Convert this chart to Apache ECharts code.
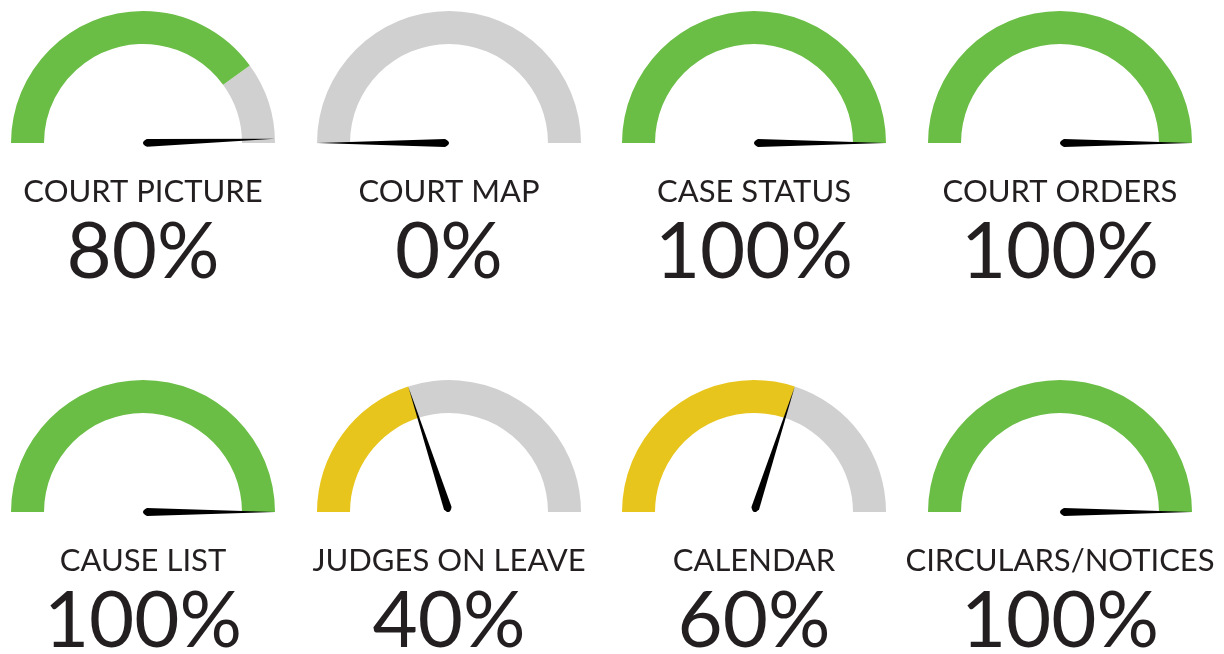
<!DOCTYPE html>
<html>
<head>
<meta charset="utf-8">
<script src="https://cdn.jsdelivr.net/npm/echarts@6/dist/echarts.min.js"></script>
<style>
    html, body { margin: 0; padding: 0; background: #fff; }
    #chart { width: 1224px; height: 654px; }
</style>
</head>
<body>
<div id="chart"></div>
<script>
// gauge data
var names = ['COURT PICTURE', 'COURT MAP', 'CASE STATUS', 'COURT ORDERS',
    'CAUSE LIST', 'JUDGES ON LEAVE', 'CALENDAR', 'CIRCULARS/NOTICES'];
var values = [80, 0, 100, 100, 100, 40, 60, 100];
// where the needle sits in the picture (the first one is off from its value)
var needleValues = [99, 0, 100, 100, 100, 40, 60, 100];
var fillColors = ['#6abd45', '#d0d0d0', '#6abd45', '#6abd45',
    '#6abd45', '#e8c51c', '#e8c51c', '#6abd45'];

var chart = echarts.init(document.getElementById('chart'));
var centersX = [143, 449, 754, 1060];
var centersY = [143, 512];
var radius = 132;
var series = [];

for (var i = 0; i < names.length; i++) {
    var center = [centersX[i % 4], centersY[Math.floor(i / 4)]];
    // arc + texts
    series.push({
        type: 'gauge',
        center: center,
        radius: radius,
        startAngle: 180,
        endAngle: 0,
        min: 0,
        max: 100,
        axisLine: {
            lineStyle: {
                width: 33,
                color: [[values[i] / 100, fillColors[i]], [1, '#d0d0d0']]
            }
        },
        axisTick: {show: false},
        splitLine: {show: false},
        axisLabel: {show: false},
        pointer: {show: false},
        anchor: {show: false},
        title: {
            offsetCenter: [0, 49],
            fontFamily: 'Lato',
            fontSize: 31,
            color: '#231f20'
        },
        detail: {
            offsetCenter: [0, 110],
            fontFamily: 'Lato',
            fontWeight: 'normal',
            fontSize: 78,
            color: '#231f20',
            formatter: '{value}%'
        },
        animation: false,
        data: [{value: values[i], name: names[i]}]
    });
    // needle
    series.push({
        type: 'gauge',
        center: center,
        radius: radius,
        startAngle: 180,
        endAngle: 0,
        min: 0,
        max: 100,
        axisLine: {show: false},
        axisTick: {show: false},
        splitLine: {show: false},
        axisLabel: {show: false},
        pointer: {
            icon: 'path://M5 0 L8 96 Q5 102 2 96 Z',
            length: '100%',
            width: 8,
            offsetCenter: [0, 0],
            itemStyle: {color: '#000'}
        },
        anchor: {show: false},
        title: {show: false},
        detail: {show: false},
        animation: false,
        data: [{value: needleValues[i]}]
    });
}

chart.setOption({
    backgroundColor: '#fff',
    series: series
});

window.onresize = function () {
    chart.resize();
};
</script>
</body>
</html>
